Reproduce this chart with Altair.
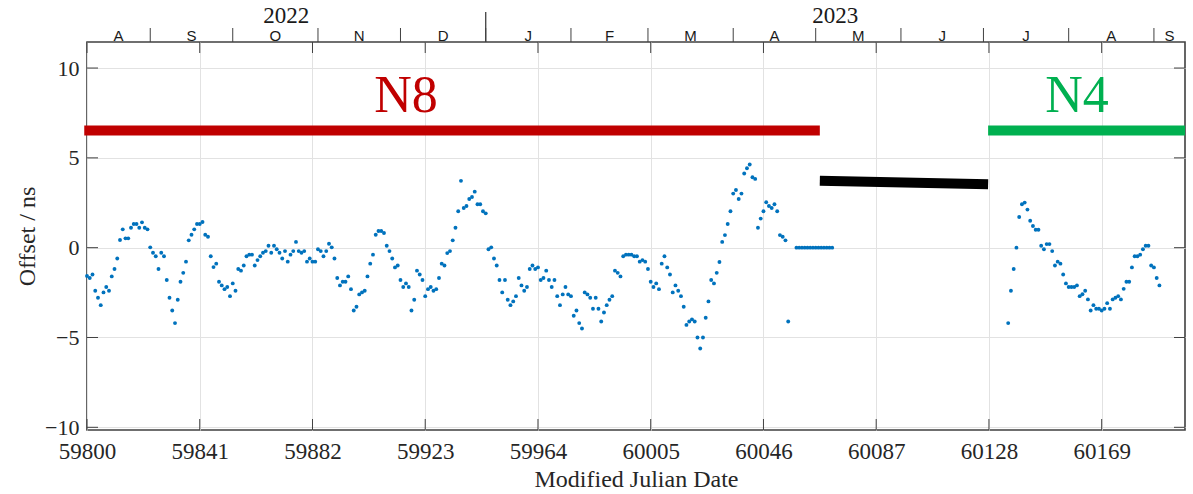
import altair as alt
import pandas as pd

# ---------------- data ----------------
N8_START = 59800
n8_offsets = [
    -1.58, -1.69, -1.49, -2.40, -2.79, -3.20, -2.49, -2.19, -2.40, -1.60,
    -1.19, -0.60, 0.43, 1.02, 0.52, 0.52, 1.11, 1.32, 1.32, 1.11,
    1.41, 1.11, 1.02, 0.02, -0.28, -0.48, -1.19, -0.28, -0.48, -1.80,
    -2.79, -3.50, -4.20, -2.90, -1.90, -1.40, -0.78, 0.41, 0.72, 1.02,
    1.32, 1.32, 1.43, 0.72, 0.61, -0.48, -1.08, -0.89, -1.90, -2.10,
    -2.31, -2.19, -2.70, -1.99, -2.40, -1.19, -1.28, -0.99, -0.48, -0.39,
    -0.39, -0.99, -0.69, -0.48, -0.28, -0.19, 0.11, -0.28, 0.11, -0.09,
    -0.28, -0.60, -0.19, -0.78, -0.39, -0.19, 0.32, -0.19, -0.28, -0.19,
    -0.78, -0.60, -0.78, -0.78, -0.09, -0.19, -0.48, -0.19, 0.22, 0.02,
    -0.60, -1.69, -2.10, -1.90, -1.90, -1.60, -2.31, -3.50, -3.29, -2.60,
    -2.49, -2.40, -1.60, -0.89, -0.39, 0.72, 0.93, 0.93, 0.82, 0.11,
    -0.19, -0.60, -1.10, -0.99, -1.80, -2.19, -1.99, -2.19, -3.50, -2.90,
    -1.28, -1.49, -1.80, -2.70, -2.31, -2.19, -2.40, -2.31, -1.69, -0.89,
    -0.99, -0.30, -0.19, 0.41, 1.11, 2.03, 3.72, 2.21, 2.32, 2.71,
    2.82, 3.12, 2.42, 2.42, 2.03, 1.91, -0.09, 0.02, -0.60, -0.99,
    -1.80, -2.49, -1.80, -2.90, -3.20, -2.99, -2.70, -1.69, -2.10, -2.40,
    -2.19, -1.19, -0.99, -1.19, -1.10, -1.80, -1.69, -1.28, -1.80, -2.19,
    -1.80, -2.70, -3.20, -2.60, -2.19, -2.60, -2.70, -3.79, -3.50, -4.20,
    -4.50, -2.49, -2.60, -2.79, -3.40, -2.79, -3.40, -4.11, -3.61, -3.20,
    -2.90, -2.70, -1.28, -1.40, -1.60, -0.48, -0.39, -0.39, -0.39, -0.48,
    -0.48, -0.78, -0.69, -0.78, -1.19, -1.90, -2.19, -1.99, -2.31, -0.89,
    -0.48, -1.10, -1.49, -2.49, -2.10, -2.40, -2.70, -3.29, -4.30, -4.11,
    -3.99, -4.11, -5.00, -5.61, -5.00, -3.90, -2.99, -1.80, -1.99, -1.40,
    -0.80, 0.32, 0.70, 1.32, 2.03, 3.01, 3.21, 2.71, 3.01, 4.13,
    4.42, 4.63, 3.92, 3.83, 1.11, 1.62, 2.03, 2.53, 2.32, 2.21,
    2.42, 2.03, 0.70, 0.61, 0.41, -4.11,
]
HOLD_START = 60058
hold_offsets = [0.0, 0.0, 0.0, 0.0, 0.0, 0.0, 0.0, 0.0, 0.0, 0.0, 0.0, 0.0, 0.0, 0.0]
N4_START = 60135
n4_offsets = [
    -4.20, -2.40, -1.19, 0.00, 1.71, 2.42, 2.51, 2.12, 1.50, 1.21,
    1.00, 1.00, 0.11, -0.09, 0.20, 0.20, -0.19, -0.99, -0.78, -0.89,
    -1.49, -1.99, -2.19, -2.19, -2.19, -2.10, -2.70, -2.59, -2.40, -2.88,
    -3.50, -3.20, -3.40, -3.40, -3.50, -3.40, -3.09, -3.40, -2.88, -2.79,
    -2.70, -2.88, -2.29, -1.90, -1.90, -1.10, -0.48, -0.48, -0.39, -0.09,
    0.11, 0.11, -0.99, -1.10, -1.69, -2.10,
]

# reference-clock segments (bars)
seg_start = [59799.0, 60066.5, 60127.7]
seg_end = [60066.5, 60127.7, 60199.3]
seg_y_start = [6.53, 3.73, 6.53]
seg_y_end = [6.53, 3.53, 6.53]
seg_color = ["#C00000", "#000000", "#00B050"]

lab_text = ["N8", "N4"]
lab_x = [59916, 60160]
lab_y = [7.55, 7.55]
lab_color = ["#C00000", "#00B050"]

x_ticks = [59800, 59841, 59882, 59923, 59964, 60005, 60046, 60087, 60128, 60169]
y_ticks = [-10, -5, 0, 5, 10]

month_starts = [59823, 59853, 59884, 59914, 59945, 59976, 60004, 60035,
                60065, 60096, 60126, 60157, 60188]
month_letters = ["A", "S", "O", "N", "D", "J", "F", "M", "A", "M", "J", "J", "A", "S"]
year_starts = [59945]
year_labels = ["2022", "2023"]

X_MIN, X_MAX = 59800, 60199.3
Y_MIN, Y_MAX = -10.15, 11.45

W, H = 1098, 388
SERIF = "Liberation Serif"
SANS = "Liberation Sans"
AX = "#404040"
TXT = "#262626"

# ---------------- tables ----------------
pts = pd.DataFrame({
    "mjd": [N8_START + i for i in range(len(n8_offsets))]
    + [HOLD_START + i for i in range(len(hold_offsets))]
    + [N4_START + i for i in range(len(n4_offsets))],
    "offset": n8_offsets + hold_offsets + n4_offsets,
})
segs = pd.DataFrame({"mjd": seg_start, "x2": seg_end, "offset": seg_y_start,
                     "y2": seg_y_end, "c": seg_color})
labs = pd.DataFrame({"mjd": lab_x, "offset": lab_y, "t": lab_text, "c": lab_color})
xt = pd.DataFrame({"mjd": x_ticks})
yt = pd.DataFrame({"offset": y_ticks})
edges = [X_MIN] + month_starts + [X_MAX]
months = pd.DataFrame({"mjd": [(edges[i] + edges[i + 1]) / 2 for i in range(len(month_letters))],
                       "t": month_letters})
mticks = pd.DataFrame({"mjd": month_starts})
yticks_top = pd.DataFrame({"mjd": year_starts})
yedges = [X_MIN] + year_starts + [X_MAX]
years = pd.DataFrame({"mjd": [(yedges[i] + yedges[i + 1]) / 2 for i in range(len(year_labels))],
                      "t": year_labels})

xs = alt.Scale(domain=[X_MIN, X_MAX], nice=False, zero=False)
ys = alt.Scale(domain=[Y_MIN, Y_MAX], nice=False, zero=False)

X_AXIS = alt.Axis(
    values=x_ticks, format="d", ticks=False, domain=False, grid=True,
    gridColor="#e2e2e2", gridWidth=1, labelFont=SERIF, labelFontSize=23,
    labelColor=TXT, labelPadding=10, labelFlush=False, labelOverlap=False,
    title="Modified Julian Date",
    titleFont=SERIF, titleFontSize=24, titleFontWeight="normal",
    titleColor=TXT, titlePadding=4)
Y_AXIS = alt.Axis(
    values=y_ticks, ticks=False, domain=False, grid=True,
    gridColor="#e2e2e2", gridWidth=1, labelFont=SERIF, labelFontSize=22,
    labelColor=TXT, labelPadding=8, labelFlush=False, labelOverlap=False,
    title="Offset / ns",
    titleFont=SERIF, titleFontSize=24, titleFontWeight="normal",
    titleColor=TXT, titlePadding=5)


def X(field="mjd:Q"):
    return alt.X(field, scale=xs, axis=X_AXIS)


def Y(field="offset:Q"):
    return alt.Y(field, scale=ys, axis=Y_AXIS)


points = alt.Chart(pts).mark_circle(size=15, color="#0072BD", opacity=1).encode(
    x=X(), y=Y())

bars = alt.Chart(segs).mark_rule(strokeWidth=10, strokeCap="butt").encode(
    x=X(), x2="x2:Q", y=Y(), y2="y2:Q",
    color=alt.Color("c:N", scale=None),
)

labels = alt.Chart(labs).mark_text(font=SERIF, fontSize=52, baseline="alphabetic",
                                    align="center").encode(
    x=X(), y=Y(), text="t:N", color=alt.Color("c:N", scale=None),
)

# inward axis ticks
tick_b = alt.Chart(xt).mark_rule(color=AX, strokeWidth=1).encode(
    x=X(), y=alt.value(H), y2=alt.value(H - 11))
tick_t = alt.Chart(xt).mark_rule(color=AX, strokeWidth=1).encode(
    x=X(), y=alt.value(0), y2=alt.value(11))
tick_l = alt.Chart(yt).mark_rule(color=AX, strokeWidth=1).encode(
    y=Y(), x=alt.value(0), x2=alt.value(11))
tick_r = alt.Chart(yt).mark_rule(color=AX, strokeWidth=1).encode(
    y=Y(), x=alt.value(W - 11), x2=alt.value(W))

# calendar axis on top
m_ticks = alt.Chart(mticks).mark_rule(color=AX, strokeWidth=1).encode(
    x=X(), y=alt.value(0), y2=alt.value(-14))
y_tick = alt.Chart(yticks_top).mark_rule(color=AX, strokeWidth=1.3).encode(
    x=X(), y=alt.value(0), y2=alt.value(-30))
m_text = alt.Chart(months).mark_text(font=SANS, fontSize=15, baseline="alphabetic",
                                      color="#1a1a1a").encode(
    x=X(), y=alt.value(-1), text="t:N")
y_text = alt.Chart(years).mark_text(font=SERIF, fontSize=23, baseline="alphabetic",
                                     color="#1a1a1a").encode(
    x=X(), y=alt.value(-19), text="t:N")

chart = alt.layer(
    points, bars, labels, tick_b, tick_t, tick_l, tick_r, m_ticks, y_tick, m_text, y_text
).properties(
    width=W, height=H,
    autosize=alt.AutoSizeParams(type="none"),
    padding={"left": 87, "top": 42, "right": 8, "bottom": 64},
    background="white",
).configure_view(stroke=AX, strokeWidth=1.6)

chart.save("out.html", embed_options={"renderer": "svg", "actions": False})
